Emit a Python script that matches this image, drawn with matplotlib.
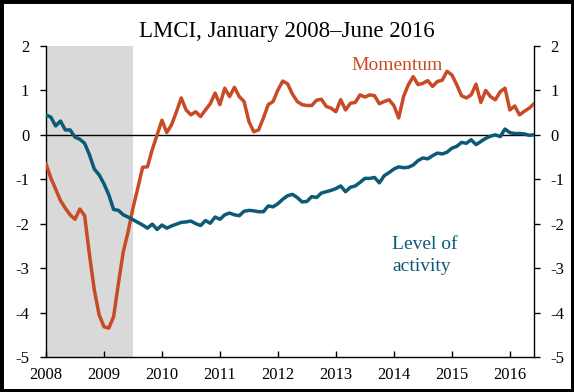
import numpy as np
import matplotlib.pyplot as plt
from matplotlib.patches import Rectangle

# LMCI, miesięcznie od stycznia 2008 do czerwca 2016
start_year = 2008
momentum = [-0.65, -0.97, -1.22, -1.48, -1.65, -1.80, -1.90, -1.67, -1.82, -2.70, -3.49, -4.05,
            -4.32, -4.35, -4.09, -3.34, -2.63, -2.18, -1.65, -1.20, -0.73, -0.72, -0.33, 0.00,
            0.33, 0.05, 0.23, 0.52, 0.83, 0.56, 0.45, 0.52, 0.41, 0.56, 0.70, 0.94,
            0.68, 1.05, 0.86, 1.07, 0.86, 0.75, 0.30, 0.07, 0.11, 0.38, 0.68, 0.75,
            1.01, 1.21, 1.15, 0.92, 0.75, 0.68, 0.66, 0.66, 0.78, 0.80, 0.64, 0.60,
            0.52, 0.79, 0.56, 0.71, 0.73, 0.90, 0.85, 0.90, 0.88, 0.70, 0.75, 0.79,
            0.66, 0.38, 0.86, 1.13, 1.31, 1.13, 1.16, 1.22, 1.09, 1.20, 1.23, 1.43,
            1.35, 1.13, 0.88, 0.83, 0.90, 1.14, 0.73, 1.00, 0.86, 0.79, 0.97, 1.05,
            0.56, 0.65, 0.45, 0.53, 0.60, 0.70]
level = [0.45, 0.40, 0.20, 0.31, 0.11, 0.11, -0.05, -0.10, -0.19, -0.45, -0.77, -0.90,
         -1.10, -1.35, -1.68, -1.70, -1.80, -1.85, -1.91, -1.97, -2.03, -2.10, -2.01, -2.13,
         -2.03, -2.10, -2.05, -2.01, -1.97, -1.96, -1.94, -2.00, -2.04, -1.93, -1.99, -1.85,
         -1.90, -1.80, -1.76, -1.80, -1.82, -1.72, -1.70, -1.71, -1.73, -1.73, -1.60, -1.62,
         -1.55, -1.45, -1.37, -1.34, -1.41, -1.51, -1.50, -1.39, -1.41, -1.31, -1.28, -1.25,
         -1.21, -1.15, -1.28, -1.18, -1.15, -1.07, -0.98, -0.98, -0.96, -1.08, -0.92, -0.85,
         -0.77, -0.72, -0.74, -0.73, -0.68, -0.58, -0.52, -0.54, -0.47, -0.41, -0.43, -0.39,
         -0.30, -0.26, -0.17, -0.19, -0.11, -0.22, -0.15, -0.08, -0.03, 0.00, -0.04, 0.13,
         0.05, 0.03, 0.03, 0.02, -0.01, 0.00]
recession = [2008.0, 2009.5]
year_ticks = list(range(2008, 2017))
y_ticks = [-5, -4, -3, -2, -1, 0, 1, 2]

t = start_year + np.arange(len(momentum)) / 12

plt.rcParams['font.family'] = ['Liberation Serif', 'DejaVu Serif']
plt.rcParams['axes.unicode_minus'] = False

orange = '#c94a26'
teal = '#0b5a78'

fig = plt.figure(figsize=(5.74, 3.92), dpi=100)
ax = fig.add_axes([0.0801, 0.0893, 0.8502, 0.7934])

# recesja
ax.axvspan(recession[0], recession[1], color='#d9d9d9', lw=0, zorder=0)
ax.axhline(0, color='black', lw=1.0, zorder=1)

ax.plot(t, momentum, color=orange, lw=2.5, zorder=3)
ax.plot(t, level, color=teal, lw=2.5, zorder=3)

ax.set_xlim(t[0], t[-1])
ax.set_ylim(-5, 2)
ax.set_xticks(year_ticks)
ax.set_yticks(y_ticks)

ax.spines['top'].set_visible(False)
for s in ['left', 'right', 'bottom']:
    ax.spines[s].set_linewidth(1.0)

ax.tick_params(axis='y', left=True, right=True, labelleft=True, labelright=True,
               direction='out', length=4, width=1, pad=8, labelsize=12)
ax.tick_params(axis='x', direction='in', length=4, width=1, pad=7, labelsize=12)

fig.text(0.5, 1 - 37 / 392, 'LMCI, January 2008\u2013June 2016', ha='center', va='baseline',
         fontsize=16.5)
ax.text(2014.05, 1.45, 'Momentum', color=orange, ha='center', va='baseline', fontsize=14)
ax.text(2013.97, -2.57, 'Level of', color=teal, ha='left', va='baseline', fontsize=14)
ax.text(2013.97, -3.06, 'activity', color=teal, ha='left', va='baseline', fontsize=14)

# czarna ramka dookoła
fig.patches.append(Rectangle((0, 0), 1, 1, transform=fig.transFigure, fill=False,
                             edgecolor='black', lw=5, zorder=10))

fig.savefig('out.png', dpi=100)
